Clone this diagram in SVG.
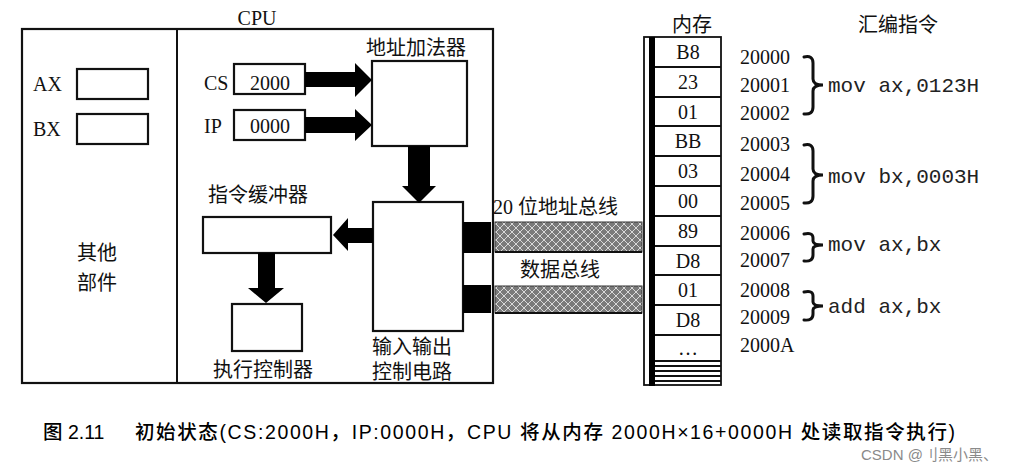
<svg xmlns="http://www.w3.org/2000/svg" width="1028" height="467" viewBox="0 0 1028 467">
<style>
.bx{fill:#fff;stroke:#111;stroke-width:2.2}
.ln{stroke:#111;stroke-width:2;fill:none}
.ar{fill:#000}
.ser{font-family:"Liberation Serif","Noto Sans CJK SC",serif;font-size:20px;fill:#111}
.cjk{font-family:"Liberation Serif","Noto Sans CJK SC",sans-serif;font-size:20px;fill:#111}
.mono{font-family:"Liberation Mono","DejaVu Sans Mono",monospace;font-size:21px;fill:#222}
.mid{text-anchor:middle}
.br{fill:none;stroke:#111;stroke-width:3;stroke-linecap:round}
.cap{font-family:"Liberation Sans","Noto Sans CJK SC",sans-serif;font-size:19.5px;fill:#000;font-weight:500}
.wm{font-family:"Liberation Sans","Noto Sans CJK SC",sans-serif;font-size:15px;fill:#8a8a8a}
</style>
<defs>
<pattern id="hatch" width="8" height="8" patternUnits="userSpaceOnUse">
<rect width="8" height="8" fill="#7a7a7a"/>
<path d="M0 0 L8 8 M8 0 L0 8" stroke="#d8d8d8" stroke-width="1"/>
</pattern>
</defs>
<rect width="1028" height="467" fill="#fff"/>

<g id="cpu">
<rect class="bx" x="22" y="29" width="471" height="354"/>
<line class="ln" x1="177" y1="29" x2="177" y2="383"/>
<text class="ser mid" x="257" y="25">CPU</text>
</g>

<g id="other">
<text class="cjk" x="77" y="260">其他</text>
<text class="cjk" x="77" y="290">部件</text>
</g>

<g id="ax">
<text class="ser" x="33" y="91">AX</text>
<rect class="bx" x="77" y="69" width="71" height="30"/>
</g>
<g id="bx">
<text class="ser" x="33" y="136">BX</text>
<rect class="bx" x="77" y="114" width="71" height="30"/>
</g>

<g id="cs">
<text class="ser" x="204" y="90">CS</text>
<rect class="bx" x="234" y="64" width="71" height="30"/>
<text class="ser mid" x="270" y="90">2000</text>
</g>
<g id="ip">
<text class="ser" x="204" y="133">IP</text>
<rect class="bx" x="234" y="110" width="71" height="30"/>
<text class="ser mid" x="270" y="133">0000</text>
</g>

<g id="adder">
<text class="cjk" x="366" y="55">地址加法器</text>
<rect class="bx" x="372" y="61" width="95" height="85"/>
</g>

<g id="io">
<rect class="bx" x="373" y="202" width="90" height="129"/>
<text class="cjk" x="372" y="354">输入输出</text>
<text class="cjk" x="372" y="379">控制电路</text>
<rect class="ar" x="463" y="222" width="28" height="31"/>
<rect class="ar" x="463" y="285" width="28" height="28"/>
</g>

<g id="buffer">
<text class="cjk" x="208" y="202">指令缓冲器</text>
<rect class="bx" x="203" y="217" width="128" height="36"/>
</g>

<g id="exec">
<rect class="bx" x="232" y="304" width="70" height="47"/>
<text class="cjk" x="213" y="377">执行控制器</text>
</g>

<g id="connectors">
<polygon class="ar" points="305,72 355,72 355,63 372,80 355,97 355,87 305,87"/>
<polygon class="ar" points="305,117 355,117 355,109 372,125 355,141 355,133 305,133"/>
<polygon class="ar" points="408,146 430,146 430,186 436,186 419,203 402,186 408,186"/>
<polygon class="ar" points="373,228 348,228 348,218 333,235 348,251 348,243 373,243"/>
<polygon class="ar" points="258,253 275,253 275,288 284,288 266,303 248,288 258,288"/>
<rect x="495" y="222" width="147" height="30" fill="url(#hatch)" stroke="#333" stroke-width="1"/>
<line x1="495" y1="252" x2="642" y2="252" stroke="#111" stroke-width="2"/>
<rect x="495" y="286" width="147" height="27" fill="url(#hatch)" stroke="#333" stroke-width="1"/>
<line x1="495" y1="313" x2="642" y2="313" stroke="#111" stroke-width="2"/>
<text class="cjk" x="493" y="214">20 位地址总线</text>
<text class="cjk" x="520" y="277">数据总线</text>
</g>

<g id="memory">
<text class="cjk" x="672" y="32">内存</text>
<rect x="644" y="37" width="77" height="348" fill="#fff" stroke="#111" stroke-width="1.8"/>
<rect x="649" y="37" width="6" height="349" fill="#000"/>
<g stroke="#111" stroke-width="2">
<line x1="655" y1="67" x2="721" y2="67"/>
<line x1="655" y1="97" x2="721" y2="97"/>
<line x1="655" y1="126" x2="721" y2="126"/>
<line x1="655" y1="156" x2="721" y2="156"/>
<line x1="655" y1="186" x2="721" y2="186"/>
<line x1="655" y1="216" x2="721" y2="216"/>
<line x1="655" y1="246" x2="721" y2="246"/>
<line x1="655" y1="275" x2="721" y2="275"/>
<line x1="655" y1="305" x2="721" y2="305"/>
<line x1="655" y1="335" x2="721" y2="335"/>
<line x1="655" y1="361" x2="721" y2="361"/>
<line x1="655" y1="366" x2="721" y2="366"/>
<line x1="655" y1="371" x2="721" y2="371"/>
<line x1="655" y1="376" x2="721" y2="376"/>
<line x1="655" y1="381" x2="721" y2="381"/>
</g>
<g class="ser mid">
<text x="688" y="59">B8</text>
<text x="688" y="89">23</text>
<text x="688" y="119">01</text>
<text x="688" y="148">BB</text>
<text x="688" y="178">03</text>
<text x="688" y="208">00</text>
<text x="688" y="238">89</text>
<text x="688" y="268">D8</text>
<text x="688" y="297">01</text>
<text x="688" y="327">D8</text>
<text x="688" y="355">…</text>
</g>
<g class="ser">
<text x="740" y="64">20000</text>
<text x="740" y="92">20001</text>
<text x="740" y="120">20002</text>
<text x="740" y="151">20003</text>
<text x="740" y="181">20004</text>
<text x="740" y="210">20005</text>
<text x="740" y="240">20006</text>
<text x="740" y="267">20007</text>
<text x="740" y="297">20008</text>
<text x="740" y="324">20009</text>
<text x="740" y="352">2000A</text>
</g>
</g>

<g id="asm">
<text class="cjk" x="858" y="32">汇编指令</text>
<path class="br" d="M804 57 Q813 55 813 63 L813 79 Q813 85 823 85 Q813 85 813 91 L813 107 Q813 115 804 114"/>
<path class="br" d="M804 145 Q813 143 813 151 L813 169 Q813 175 823 175 Q813 175 813 181 L813 196 Q813 204 804 203"/>
<path class="br" d="M804 234 Q813 232 813 238 L813 241 Q813 245 823 245 Q813 245 813 249 L813 255 Q813 262 804 261"/>
<path class="br" d="M804 292 Q813 290 813 296 L813 302 Q813 306 823 306 Q813 306 813 310 L813 314 Q813 321 804 320"/>
<text class="mono" x="828" y="92">mov ax,0123H</text>
<text class="mono" x="828" y="183">mov bx,0003H</text>
<text class="mono" x="828" y="251">mov ax,bx</text>
<text class="mono" x="828" y="313">add ax,bx</text>
</g>

<g id="caption">
<text class="cap" x="43" y="439">图 2.11</text>
<text class="cap" x="135" y="439" textLength="820" lengthAdjust="spacing">初始状态(CS:2000H，IP:0000H，CPU 将从内存 2000H×16+0000H 处读取指令执行)</text>
<text class="wm" x="861" y="460">CSDN @刂黑小黑、</text>
</g>
</svg>
